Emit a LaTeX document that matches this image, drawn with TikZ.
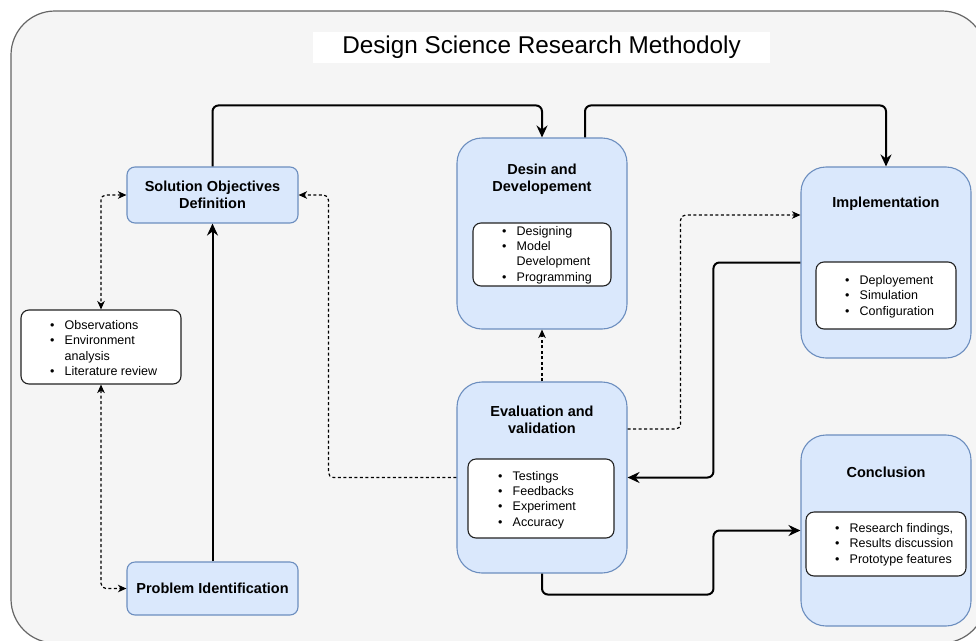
\documentclass[tikz,border=0pt]{standalone}
\usepackage{fontspec}
\setmainfont{Liberation Sans}
\usetikzlibrary{arrows.meta}

\definecolor{bluefill}{HTML}{DAE8FC}
\definecolor{bluedraw}{HTML}{6C8EBF}
\definecolor{panelfill}{HTML}{F5F5F5}
\definecolor{paneldraw}{HTML}{666666}
\definecolor{listdraw}{HTML}{222222}

% bullet item with a hanging indent, and a continuation line
\newcommand{\itm}[1]{\makebox[14.5pt][l]{\textbullet}#1}
\newcommand{\cnt}[1]{\hspace*{14.5pt}#1}

\tikzset{
  stagebox/.style={draw=bluedraw, fill=bluefill, line width=1.1pt,
    rounded corners=8pt, inner sep=0pt, align=center,
    font=\fontsize{14.5}{17}\selectfont\bfseries},
  phasebox/.style={draw=bluedraw, fill=bluefill, line width=1.1pt,
    rounded corners=25pt, inner sep=0pt},
  phasetitle/.style={inner sep=0pt, align=center,
    font=\fontsize{14.5}{17.5}\selectfont\bfseries},
  listbox/.style={draw=listdraw, fill=white, line width=1.1pt,
    rounded corners=8pt, inner sep=0pt},
  listtext/.style={inner sep=0pt, anchor=west, align=left,
    font=\fontsize{12.5}{15.3}\selectfont},
  flow/.style={line width=2pt, rounded corners=6pt,
    -{Stealth[length=12pt,width=11pt,inset=4pt]}},
  loop/.style={line width=1.2pt, dash pattern=on 3pt off 2.5pt,
    rounded corners=5pt, -{Stealth[length=8.5pt,width=7.5pt,inset=2.5pt]}},
  loopboth/.style={loop, {Stealth[length=8.5pt,width=7.5pt,inset=2.5pt]}-{Stealth[length=8.5pt,width=7.5pt,inset=2.5pt]}},
}

\begin{document}
\begin{tikzpicture}[x=1pt,y=-1pt]
  \useasboundingbox (0,0) rectangle (976,640);
  \clip (0,0) rectangle (976,640);

  % panel
  \draw[draw=paneldraw, fill=panelfill, line width=1.2pt, rounded corners=44pt]
    (11,11) rectangle (986,643);

  % title
  \node[fill=white, minimum width=457pt, minimum height=31pt, inner sep=0pt,
        font=\fontsize{24.3}{28}\selectfont] (title) at (541.5,47.5)
    {Design Science Research Methodoly};

  % left column
  \node[stagebox, minimum width=171pt, minimum height=56pt] (sol) at (212.5,195)
    {Solution Objectives\\Definition};
  \node[stagebox, minimum width=171pt, minimum height=53pt] (prob) at (212.5,588.5)
    {Problem Identification};
  \node[listbox, minimum width=160pt, minimum height=74pt] (obs) at (101,347) {};
  \node[listtext] (obslist) at (50,348)
    {\itm{Observations}\\\itm{Environment}\\\cnt{analysis}\\\itm{Literature review}};

  % design and development
  \node[phasebox, minimum width=170pt, minimum height=191pt] (design) at (542,233.5) {};
  \node[phasetitle] (designtitle) at (542,179) {Desin and\\Developement};
  \node[listbox, minimum width=138pt, minimum height=63pt] (designin) at (542,254.5) {};
  \node[listtext] (designlist) at (502,255)
    {\itm{Designing}\\\itm{Model}\\\cnt{Development}\\\itm{Programming}};

  % implementation
  \node[phasebox, minimum width=170pt, minimum height=191pt] (impl) at (886,262.5) {};
  \node[phasetitle] (impltitle) at (886,204) {Implementation};
  \node[listbox, minimum width=140pt, minimum height=67pt] (implin) at (886,295.5) {};
  \node[listtext] (impllist) at (845,296.5)
    {\itm{Deployement}\\\itm{Simulation}\\\itm{Configuration}};

  % evaluation and validation
  \node[phasebox, minimum width=170pt, minimum height=191pt] (eval) at (542,477.5) {};
  \node[phasetitle] (evaltitle) at (542,420) {Evaluation and\\validation};
  \node[listbox, minimum width=146pt, minimum height=79pt] (evalin) at (541,498.5) {};
  \node[listtext] (evallist) at (498,500)
    {\itm{Testings}\\\itm{Feedbacks}\\\itm{Experiment}\\\itm{Accuracy}};

  % conclusion
  \node[phasebox, minimum width=170pt, minimum height=191pt] (concl) at (886,530.5) {};
  \node[phasetitle] (concltitle) at (886,472) {Conclusion};
  \node[listbox, minimum width=160pt, minimum height=64pt] (conclin) at (886,544) {};
  \node[listtext] (concllist) at (835,544.5)
    {\itm{Research findings,}\\\itm{Results discussion}\\\itm{Prototype features}};

  % main flow
  \draw[flow] (prob.north) -- (sol.south);
  \draw[flow] (sol.north) -- ++(0,-61) -| (design.north);
  \draw[flow] ([xshift=43pt]design.north) -- ++(0,-32) -| (impl.north);
  \draw[flow] (impl.west) -- ++(-87,0) |- (eval.east);
  \draw[flow] (eval.south) -- ++(0,21) -| ([xshift=-87pt]concl.west) -- (concl.west);

  % feedback loops
  \draw[loop] ([yshift=48.5pt]eval.east) -- ++(53,0) |- ([yshift=47.5pt]impl.west);
  \draw[loop] (eval.north) -- (design.south);
  \draw[loop] (eval.west) -- ++(-128,0) |- (sol.east);
  \draw[loopboth] (sol.west) -| (obs.north);
  \draw[loopboth] (obs.south) |- (prob.west);
\end{tikzpicture}
\end{document}
